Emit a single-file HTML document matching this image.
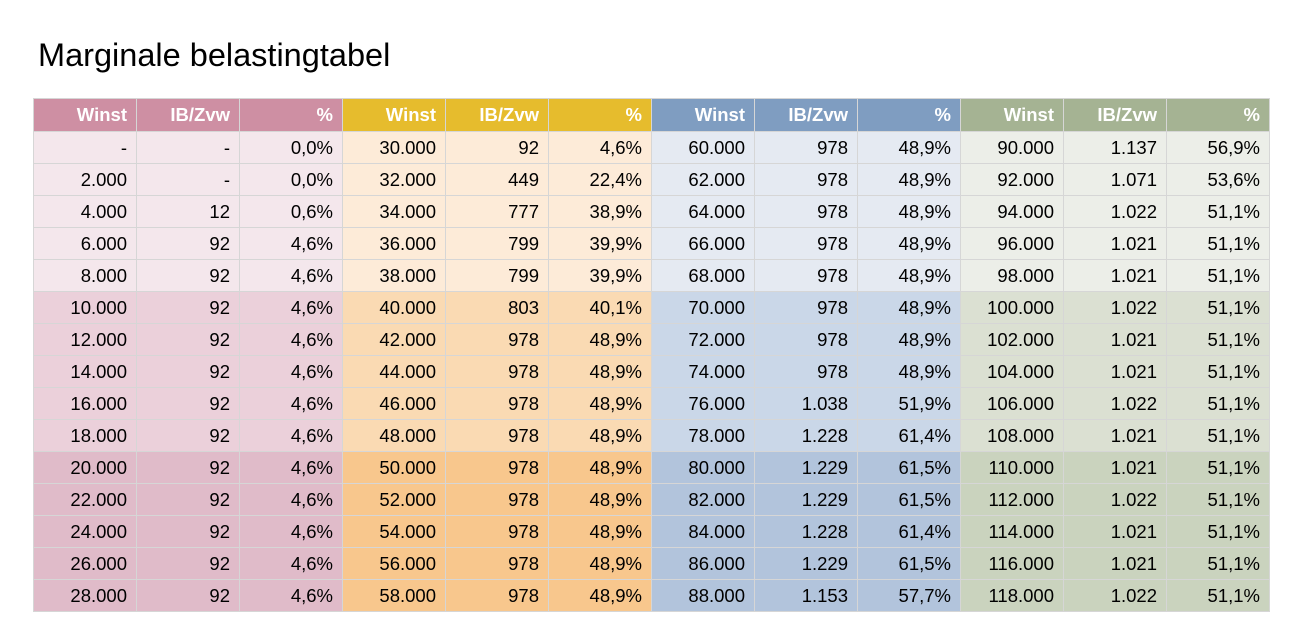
<!DOCTYPE html>
<html><head><meta charset="utf-8"><style>
body{margin:0;background:#fff;width:1301px;height:643px;overflow:hidden;font-family:"Liberation Sans",sans-serif;}
h1{position:absolute;left:38px;top:37px;margin:0;font-weight:normal;font-size:32.5px;color:#000;letter-spacing:0px}
table{position:absolute;left:33px;top:98px;border-collapse:collapse;table-layout:fixed;width:1236px}
td,th{width:103px;height:31px;padding:0 9px 0 0;border:1px solid #d6d6d6;text-align:right;font-size:18.5px;box-sizing:border-box;color:#000}
th{color:#fff;font-weight:bold;height:33px}
.hp{background:#ce8fa3}.hy{background:#e6bc2d}.hb{background:#7f9dc1}.hg{background:#a5b393}
.p1{background:#f4e7ec}.p2{background:#ebd0da}.p3{background:#e0bbc9}
.y1{background:#fdebd8}.y2{background:#fadab3}.y3{background:#f8c78d}
.b1{background:#e5eaf2}.b2{background:#cad7e8}.b3{background:#b2c4dc}
.g1{background:#eceee8}.g2{background:#dbe0d2}.g3{background:#cad3be}
tr{height:32px}
</style></head><body>
<h1>Marginale belastingtabel</h1>
<table id="t">
<tr><th class="hp">Winst</th><th class="hp">IB/Zvw</th><th class="hp">%</th><th class="hy">Winst</th><th class="hy">IB/Zvw</th><th class="hy">%</th><th class="hb">Winst</th><th class="hb">IB/Zvw</th><th class="hb">%</th><th class="hg">Winst</th><th class="hg">IB/Zvw</th><th class="hg">%</th></tr>
</table>
<script>
var d=[
["-","-","0,0%","30.000","92","4,6%","60.000","978","48,9%","90.000","1.137","56,9%"],
["2.000","-","0,0%","32.000","449","22,4%","62.000","978","48,9%","92.000","1.071","53,6%"],
["4.000","12","0,6%","34.000","777","38,9%","64.000","978","48,9%","94.000","1.022","51,1%"],
["6.000","92","4,6%","36.000","799","39,9%","66.000","978","48,9%","96.000","1.021","51,1%"],
["8.000","92","4,6%","38.000","799","39,9%","68.000","978","48,9%","98.000","1.021","51,1%"],
["10.000","92","4,6%","40.000","803","40,1%","70.000","978","48,9%","100.000","1.022","51,1%"],
["12.000","92","4,6%","42.000","978","48,9%","72.000","978","48,9%","102.000","1.021","51,1%"],
["14.000","92","4,6%","44.000","978","48,9%","74.000","978","48,9%","104.000","1.021","51,1%"],
["16.000","92","4,6%","46.000","978","48,9%","76.000","1.038","51,9%","106.000","1.022","51,1%"],
["18.000","92","4,6%","48.000","978","48,9%","78.000","1.228","61,4%","108.000","1.021","51,1%"],
["20.000","92","4,6%","50.000","978","48,9%","80.000","1.229","61,5%","110.000","1.021","51,1%"],
["22.000","92","4,6%","52.000","978","48,9%","82.000","1.229","61,5%","112.000","1.022","51,1%"],
["24.000","92","4,6%","54.000","978","48,9%","84.000","1.228","61,4%","114.000","1.021","51,1%"],
["26.000","92","4,6%","56.000","978","48,9%","86.000","1.229","61,5%","116.000","1.021","51,1%"],
["28.000","92","4,6%","58.000","978","48,9%","88.000","1.153","57,7%","118.000","1.022","51,1%"]];
var t=document.getElementById('t'),g=['p','y','b','g'],h='';
d.forEach(function(r,i){var s=i<5?1:i<10?2:3;h+='<tr>';r.forEach(function(c,j){h+='<td class="'+g[Math.floor(j/3)]+s+'">'+c+'</td>'});h+='</tr>'});
t.insertAdjacentHTML('beforeend',h);
</script>
</body></html>
